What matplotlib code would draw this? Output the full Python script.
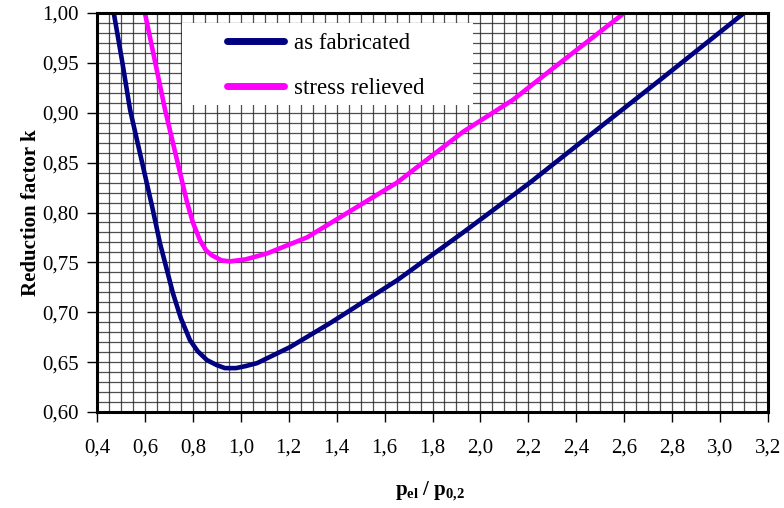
import matplotlib
matplotlib.use("Agg")
import matplotlib.pyplot as plt
from matplotlib.patches import Rectangle
from matplotlib.ticker import MultipleLocator, FuncFormatter

# curves
fab_x = [0.47, 0.504, 0.538, 0.63, 0.663, 0.717, 0.75, 0.788, 0.82, 0.859, 0.90, 0.934,
         0.98, 1.02, 1.068, 1.205, 1.372, 1.652, 1.928, 2.207, 2.449, 2.75, 3.10]
fab_k = [1.00, 0.953, 0.903, 0.806, 0.769, 0.719, 0.694, 0.672, 0.661, 0.652, 0.647, 0.644,
         0.644, 0.646, 0.649, 0.665, 0.689, 0.732, 0.780, 0.830, 0.876, 0.933, 1.00]

rel_x = [0.60, 0.684, 0.776, 0.80, 0.830, 0.855, 0.88, 0.92, 0.955, 1.02, 1.110, 1.276,
         1.372, 1.652, 1.928, 2.136, 2.332, 2.60]
rel_k = [1.00, 0.903, 0.810, 0.790, 0.772, 0.762, 0.757, 0.752, 0.751, 0.753, 0.759, 0.775,
         0.789, 0.830, 0.881, 0.913, 0.950, 1.00]

labels = ["as fabricated", "stress relieved"]
colors = ["#000080", "#FF00FF"]

plt.rcParams["font.family"] = "Liberation Serif"
plt.rcParams["mathtext.fontset"] = "custom"
plt.rcParams["mathtext.rm"] = "Liberation Serif:bold"
plt.rcParams["mathtext.it"] = "Liberation Serif:bold"
plt.rcParams["mathtext.bf"] = "Liberation Serif:bold"

fig = plt.figure(figsize=(7.84, 5.08), dpi=100)
ax = fig.add_axes([97 / 784, 96 / 508, 671 / 784, 399 / 508])

ax.plot(fab_x, fab_k, color=colors[0], lw=3.3, label=labels[0], zorder=5,
        solid_capstyle="round", solid_joinstyle="round")
ax.plot(rel_x, rel_k, color=colors[1], lw=3.3, label=labels[1], zorder=5,
        solid_capstyle="round", solid_joinstyle="round")

ax.set_xlim(0.4, 3.2)
ax.set_ylim(0.60, 1.00)
ax.xaxis.set_major_locator(MultipleLocator(0.2))
ax.xaxis.set_minor_locator(MultipleLocator(0.05))
ax.yaxis.set_major_locator(MultipleLocator(0.05))
ax.yaxis.set_minor_locator(MultipleLocator(0.01))
ax.xaxis.set_major_formatter(FuncFormatter(lambda v, p: f"{v:.1f}".replace(".", ",")))
ax.yaxis.set_major_formatter(FuncFormatter(lambda v, p: f"{v:.2f}".replace(".", ",")))

ax.grid(which="both", color="#222222", lw=0.9, alpha=0.8, zorder=1)
ax.set_axisbelow(True)
ax.tick_params(which="major", direction="out", length=7, width=1, labelsize=15)
ax.tick_params(axis="x", which="major", pad=12)
ax.tick_params(axis="y", which="major", pad=6)
ax.tick_params(which="minor", length=0)
for s in ax.spines.values():
    s.set_linewidth(2.2)
    s.set_zorder(6)

# white box behind the legend
ax.add_patch(Rectangle((0.127, 0.77), 0.433, 0.205, transform=ax.transAxes,
                       facecolor="white", edgecolor="none", zorder=3))
leg = ax.legend(loc="upper left", bbox_to_anchor=(0.173, 0.985), frameon=False,
                fontsize=16.5, handlelength=2.5, handletextpad=0.45,
                labelspacing=1.05, borderaxespad=0, borderpad=0.6)
leg.set_zorder(4)
for line in leg.get_lines():
    line.set_linewidth(5)

ax.set_ylabel("Reduction factor k", fontsize=15, fontweight="bold", labelpad=1)
fig.text(430 / 784, 1 - 491 / 508, r"$p_{el}$ / $p_{0{,}2}$", fontsize=15,
         fontweight="bold", ha="center", va="center")

fig.savefig("out.png", dpi=100)
